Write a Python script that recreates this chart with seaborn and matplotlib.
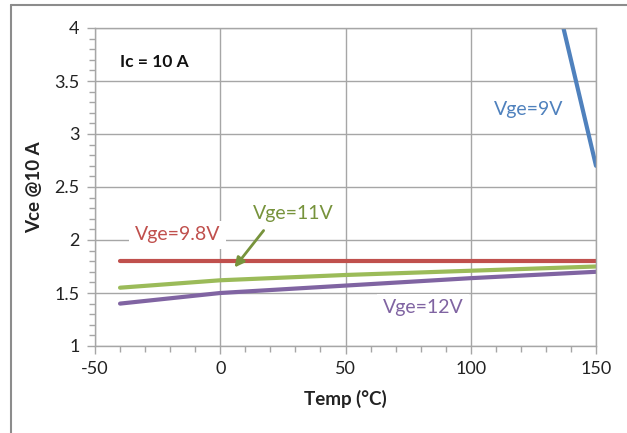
import numpy as np
import pandas as pd
import matplotlib
matplotlib.use("Agg")
import matplotlib.pyplot as plt
import seaborn as sns
from matplotlib.ticker import MultipleLocator
from matplotlib.lines import Line2D

# ---- data ----
temp_9v = [137, 150]
vce_9v = [4.0, 2.7]

temp_98v = [-40, 0, 50, 100, 150]
vce_98v = [1.8, 1.8, 1.8, 1.8, 1.8]

temp_11v = [-40, 0, 50, 100, 150]
vce_11v = [1.55, 1.62, 1.67, 1.71, 1.75]

temp_12v = [-40, 0, 50, 100, 150]
vce_12v = [1.40, 1.50, 1.57, 1.64, 1.70]

series_names = ["Vge=9V", "Vge=9.8V", "Vge=11V", "Vge=12V"]
colors = ["#4F81BD", "#C0504D", "#9BBB59", "#8064A2"]
label_colors = ["#4F81BD", "#C0504D", "#77933C", "#8064A2"]

x_ticks = [-50, 0, 50, 100, 150]
y_ticks = [1, 1.5, 2, 2.5, 3, 3.5, 4]
y_tick_labels = ["1", "1.5", "2", "2.5", "3", "3.5", "4"]

frames = []
for name, t, v in zip(series_names,
                      [temp_9v, temp_98v, temp_11v, temp_12v],
                      [vce_9v, vce_98v, vce_11v, vce_12v]):
    frames.append(pd.DataFrame({"Temp": t, "Vce": v, "Series": name}))
df = pd.concat(frames, ignore_index=True)

sns.set_theme(style="white")
plt.rcParams['font.family'] = ['Lato', 'DejaVu Sans']

fig = plt.figure(figsize=(6.27, 4.33), dpi=100)
ax = fig.add_axes([95/627, 1-346/433, (596-95)/627, (346-28)/433])

sns.lineplot(data=df, x="Temp", y="Vce", hue="Series", palette=dict(zip(series_names, colors)),
             linewidth=3, ax=ax, legend=False, sort=False)

ax.set_xlim(-50, 150)
ax.set_ylim(1, 4)
ax.set_xticks(x_ticks)
ax.set_xticklabels([str(v) for v in x_ticks])
ax.set_yticks(y_ticks)
ax.set_yticklabels(y_tick_labels)
ax.xaxis.set_minor_locator(MultipleLocator(10))
ax.yaxis.set_minor_locator(MultipleLocator(0.1))
ax.grid(True, which="major", color="#A6A6A6", linewidth=1)
ax.set_axisbelow(True)
for s in ax.spines.values():
    s.set_color("#A6A6A6")
    s.set_linewidth(1)
ax.tick_params(axis="both", which="major", direction="out", length=6, width=1, color="#A6A6A6",
               labelsize=13, labelcolor="#222222", pad=5, bottom=True, left=True)
ax.tick_params(axis="both", which="minor", direction="out", length=4, width=1, color="#A6A6A6",
               bottom=True, left=True)

ax.set_xlabel("Temp (°C)", fontsize=13.5, fontweight="bold", color="#222222", labelpad=9)
ax.set_ylabel("Vce @10 A", fontsize=13.5, fontweight="bold", color="#222222", labelpad=8)

bbox = dict(facecolor="white", edgecolor="none", pad=4)
ax.text(-40, 3.68, "Ic = 10 A", fontsize=12.5, fontweight="bold", color="#111111", va="center", ha="left")
ax.text(123, 3.23, "Vge=9V", fontsize=14, color=label_colors[0], va="center", ha="center")
ax.text(-17, 2.05, "Vge=9.8V", fontsize=14, color=label_colors[1], va="center", ha="center", bbox=bbox)
ax.text(29, 2.25, "Vge=11V", fontsize=14, color=label_colors[2], va="center", ha="center", bbox=bbox)
ax.text(81, 1.36, "Vge=12V", fontsize=14, color=label_colors[3], va="center", ha="center", bbox=bbox)

ax.annotate("", xy=(5, 1.72), xytext=(18, 2.11),
            arrowprops=dict(arrowstyle="-|>", color="#77933C", lw=2, mutation_scale=14))

# outer chart frame (left and top edges)
fig.add_artist(Line2D([11/627, 11/627], [0, 1-5/433], transform=fig.transFigure, color="#8C8C8C", lw=1.5))
fig.add_artist(Line2D([11/627, 1], [1-5/433, 1-5/433], transform=fig.transFigure, color="#8C8C8C", lw=1.5))

fig.savefig("out.png", dpi=100)
